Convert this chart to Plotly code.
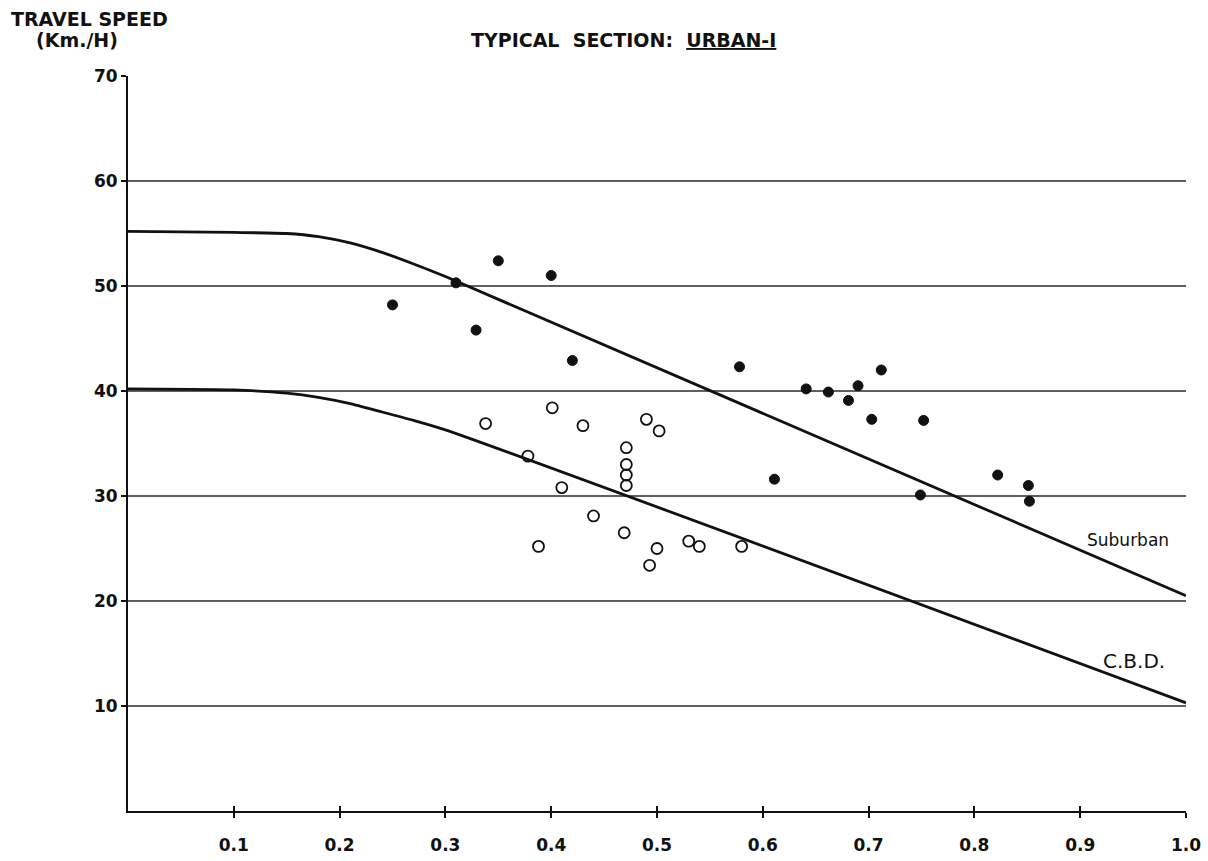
import plotly.graph_objects as go

# ---- data ----
SUB_X = [0.25, 0.31, 0.35, 0.329, 0.40, 0.42, 0.578, 0.611, 0.641, 0.662, 0.681,
         0.690, 0.703, 0.712, 0.749, 0.752, 0.822, 0.851, 0.852]
SUB_Y = [48.2, 50.3, 52.4, 45.8, 51.0, 42.9, 42.3, 31.6, 40.2, 39.9, 39.1,
         40.5, 37.3, 42.0, 30.1, 37.2, 32.0, 31.0, 29.5]

CBD_X = [0.338, 0.378, 0.388, 0.401, 0.41, 0.43, 0.44, 0.469, 0.471, 0.471, 0.471,
         0.471, 0.49, 0.493, 0.50, 0.502, 0.53, 0.54, 0.58]
CBD_Y = [36.9, 33.8, 25.2, 38.4, 30.8, 36.7, 28.1, 26.5, 34.6, 33.0, 32.0,
         31.0, 37.3, 23.4, 25.0, 36.2, 25.7, 25.2, 25.2]

SUB_LINE_X = [0.0, 0.10, 0.15, 0.18, 0.21, 0.24, 0.27, 0.30, 1.0]
SUB_LINE_Y = [55.2, 55.1, 55.0, 54.7, 54.1, 53.2, 52.1, 50.9, 20.5]

CBD_LINE_X = [0.0, 0.10, 0.15, 0.18, 0.21, 0.24, 0.27, 0.30, 1.0]
CBD_LINE_Y = [40.2, 40.1, 39.8, 39.4, 38.8, 38.0, 37.2, 36.3, 10.3]

X_TICKS = [0.1, 0.2, 0.3, 0.4, 0.5, 0.6, 0.7, 0.8, 0.9, 1.0]
X_TICK_TEXT = ["0.1", "0.2", "0.3", "0.4", "0.5", "0.6", "0.7", "0.8", "0.9", "1.0"]
Y_TICKS = [10, 20, 30, 40, 50, 60, 70]
Y_TICK_TEXT = ["10", "20", "30", "40", "50", "60", "70"]
GRID_Y = [10, 20, 30, 40, 50, 60]

FONT = "DejaVu Sans"
INK = "#111111"

fig = go.Figure()

fig.add_trace(go.Scatter(x=SUB_LINE_X, y=SUB_LINE_Y, mode="lines",
                         line=dict(color=INK, width=2.8, shape="spline", smoothing=0.6),
                         showlegend=False, hoverinfo="skip"))
fig.add_trace(go.Scatter(x=CBD_LINE_X, y=CBD_LINE_Y, mode="lines",
                         line=dict(color=INK, width=2.8, shape="spline", smoothing=0.6),
                         showlegend=False, hoverinfo="skip"))
fig.add_trace(go.Scatter(x=SUB_X, y=SUB_Y, mode="markers", name="Suburban",
                         marker=dict(symbol="circle", size=10, color=INK,
                                     line=dict(width=1, color=INK)),
                         showlegend=False))
fig.add_trace(go.Scatter(x=CBD_X, y=CBD_Y, mode="markers", name="C.B.D.",
                         marker=dict(symbol="circle-open", size=11, color=INK,
                                     line=dict(width=1.8, color=INK)),
                         showlegend=False))
# helper trace so the overlay axis (inner half of the cross ticks) is drawn
fig.add_trace(go.Scatter(x=SUB_LINE_X, y=SUB_LINE_Y, mode="none", xaxis="x2",
                         showlegend=False, hoverinfo="skip"))

for gy in GRID_Y:
    fig.add_shape(type="line", xref="x", yref="y", x0=0, x1=1.0, y0=gy, y1=gy,
                  line=dict(color="#2a2a2a", width=1.3), layer="below")

ann_font = dict(family=FONT, size=19, color=INK)
fig.add_annotation(text="<b>TRAVEL SPEED</b>", xref="paper", yref="paper",
                   x=-0.036, y=1.077, showarrow=False, font=ann_font,
                   xanchor="center", yanchor="middle")
fig.add_annotation(text="<b>(Km./H)</b>", xref="paper", yref="paper",
                   x=-0.048, y=1.049, showarrow=False, font=ann_font,
                   xanchor="center", yanchor="middle")
fig.add_annotation(text="<b>TYPICAL  SECTION:  <u>URBAN-I</u></b>", xref="paper", yref="paper",
                   x=0.468, y=1.049, showarrow=False,
                   font=dict(family=FONT, size=19, color=INK),
                   xanchor="center", yanchor="middle")
fig.add_annotation(text="Suburban", x=0.945, y=25.8, xref="x", yref="y",
                   showarrow=False, font=dict(family=FONT, size=17, color=INK),
                   xanchor="center", yanchor="middle")
fig.add_annotation(text="C.B.D.", x=0.951, y=14.3, xref="x", yref="y",
                   showarrow=False, font=dict(family=FONT, size=20, color=INK),
                   xanchor="center", yanchor="middle")

tick_font = dict(family=FONT, size=17, color=INK)
fig.update_layout(
    width=1208, height=861,
    margin=dict(l=128, r=22, t=76, b=50, autoexpand=False),
    paper_bgcolor="white", plot_bgcolor="white",
    showlegend=False,
    xaxis=dict(range=[0, 1.0], tickvals=X_TICKS, automargin=False,
               ticktext=["<b>" + t + "</b>" for t in X_TICK_TEXT],
               showgrid=False, zeroline=False, showline=True, linecolor=INK,
               linewidth=2, ticks="outside", ticklen=5, tickwidth=1.5,
               tickcolor=INK, tickfont=tick_font, ticklabelstandoff=13),
    xaxis2=dict(range=[0, 1.0], overlaying="x", side="bottom", tickvals=X_TICKS,
                showticklabels=False, showgrid=False, zeroline=False,
                showline=False, ticks="inside", ticklen=5, tickwidth=1.5,
                tickcolor=INK, automargin=False),
    yaxis=dict(range=[0, 70], tickvals=Y_TICKS, automargin=False,
               ticktext=["<b>" + t + "</b>" for t in Y_TICK_TEXT],
               showgrid=False, zeroline=False,
               showline=True, linecolor=INK, linewidth=2, ticks="outside",
               ticklen=5, tickwidth=1.5, tickcolor=INK, tickfont=tick_font),
)

fig.write_html("out.html")
